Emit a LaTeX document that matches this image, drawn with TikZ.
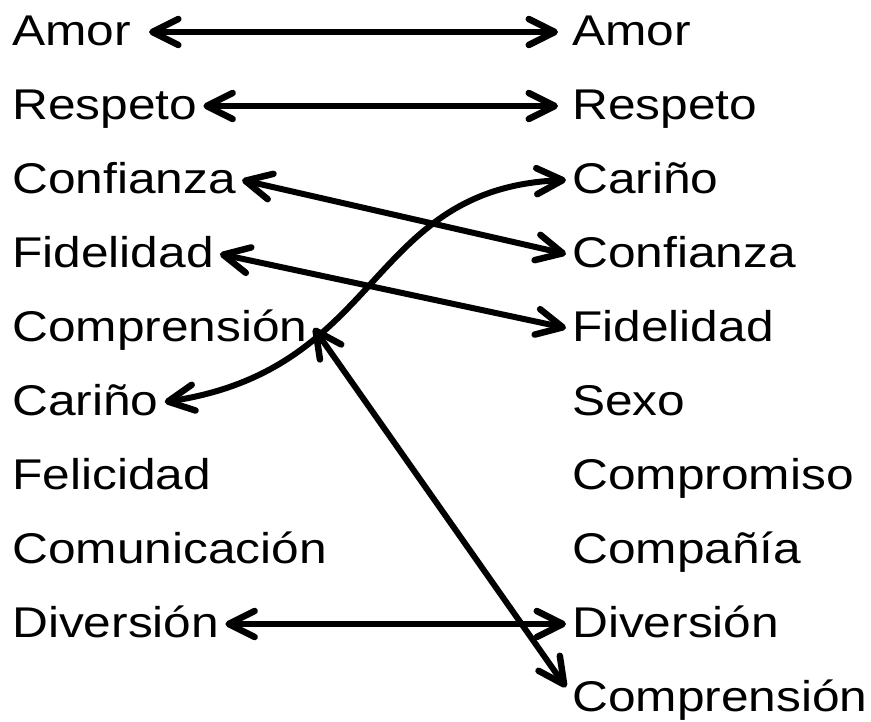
\documentclass[tikz,border=0pt]{standalone}
\usepackage{fontspec}
\setmainfont[FakeStretch=1.155]{Liberation Sans}
\usetikzlibrary{arrows.meta}
\tikzset{
    % one word of either list
    word/.style={
        font=\fontsize{43}{43}\selectfont,
        text height=27pt,
        text depth=0pt,
        inner sep=6pt,
        anchor=west,
    },
    % link between two words
    link/.style={
        line width=6pt,
        >={Straight Barb[length=26pt,width=26pt,line width=6.5pt,round]},
        <->,
    },
}

\begin{document}
\begin{tikzpicture}[x=1pt,y=-1pt]
    \useasboundingbox (0,0) rectangle (871,721);

    % Left list
    \node[word] (L1) at (6,32) {Amor};
    \node[word] (L2) at (6,106) {Respeto};
    \node[word] (L3) at (6,180) {Confianza};
    \node[word] (L4) at (6,254) {Fidelidad};
    \node[word] (L5) at (6,328) {Comprensión};
    \node[word] (L6) at (6,402) {Cariño};
    \node[word] (L7) at (6,476) {Felicidad};
    \node[word] (L8) at (6,550) {Comunicación};
    \node[word] (L9) at (6,624) {Diversión};

    % Right list
    \node[word] (R1) at (566,32) {Amor};
    \node[word] (R2) at (566,106) {Respeto};
    \node[word] (R3) at (566,180) {Cariño};
    \node[word] (R4) at (566,254) {Confianza};
    \node[word] (R5) at (566,328) {Fidelidad};
    \node[word] (R6) at (566,402) {Sexo};
    \node[word] (R7) at (566,476) {Compromiso};
    \node[word] (R8) at (566,550) {Compañía};
    \node[word] (R9) at (566,624) {Diversión};
    \node[word] (R10) at (566,698) {Comprensión};

    % Links
    \draw[link, shorten <=12pt, shorten >=8pt] (L1) -- (R1);
    \draw[link, shorten >=8pt] (L2) -- (R2);
    \draw[link] (L3.east) -- (R4.west);
    \draw[link] (L4.east) -- (R5.west);
    \draw[link] (R3.west) .. controls +(-200,8) and +(220,-33) .. (L6.east);
    \draw[link] (L5.east) -- (R10.176);
    \draw[link] (L9.east) -- (R9.west);
\end{tikzpicture}
\end{document}
